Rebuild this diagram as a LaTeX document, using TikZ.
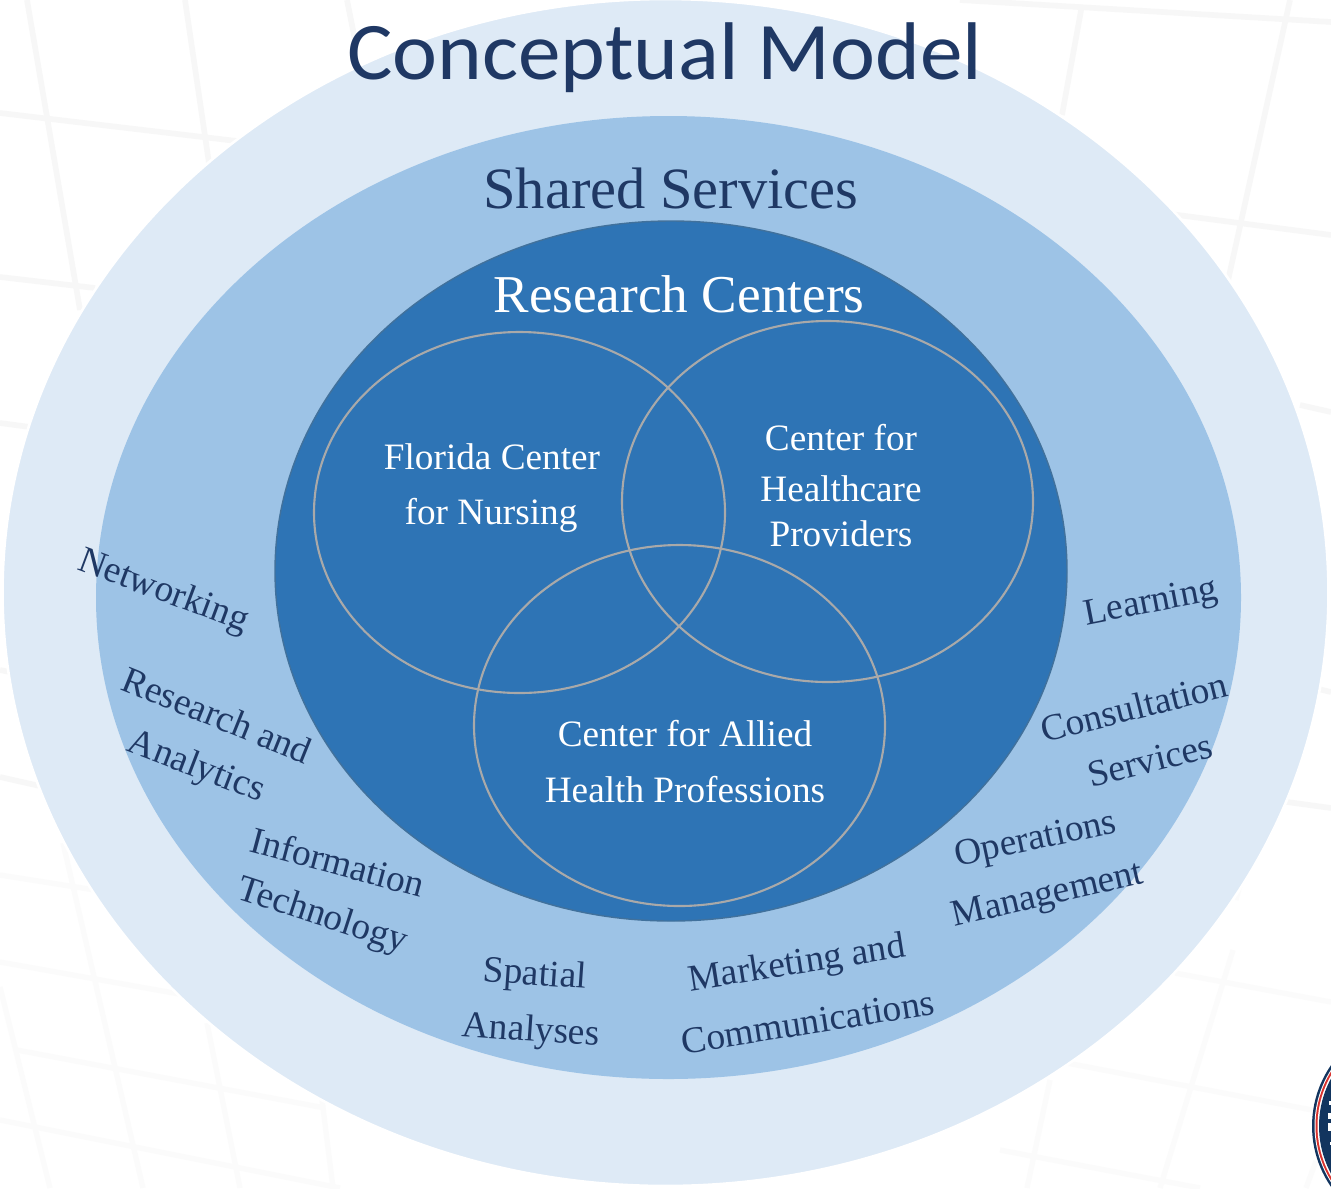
\documentclass[tikz,border=0pt]{standalone}
\usepackage{fontspec}
\setmainfont{Liberation Serif}
\newfontfamily\titlefont{Carlito}
\usepackage{xcolor}
\definecolor{navytext}{HTML}{1F3864}
\definecolor{outerblue}{HTML}{DEEAF6}
\definecolor{midblue}{HTML}{9DC3E6}
\definecolor{innerblue}{HTML}{2E74B5}
\definecolor{innerline}{HTML}{41719C}
\definecolor{ringgray}{HTML}{A9A9A9}
\definecolor{logoblue}{HTML}{12355F}
\definecolor{logored}{HTML}{D8322E}
\tikzset{
  gridline/.style={color=black!3,line width=3.2pt},
  faintline/.style={color=black!1.5,line width=3pt},
  ringline/.style={color=ringgray,line width=1.2pt},
  servicelabel/.style={text=navytext,font=\fontsize{21.3}{24}\selectfont,inner sep=0pt},
  centerlabel/.style={text=white,font=\fontsize{21.2}{24}\selectfont,inner sep=0pt}
}
\begin{document}
\begin{tikzpicture}[x=0.02cm,y=-0.02cm]
\path[use as bounding box,clip] (0,0) rectangle (1331,1188);
\fill[white] (0,0) rectangle (1331,1188);

% Background grid, top
\draw[gridline] (27,0) -- (80,310);
\draw[gridline] (185,0) -- (210,170);
\draw[gridline] (347,0) -- (355,40);
\draw[gridline] (0,113) -- (245,142);
\draw[gridline] (0,277) -- (95,288);
\draw[gridline] (0,423) -- (30,427);
\draw[gridline] (0,670) -- (10,672);
\draw[gridline] (0,777) -- (40,786);
\draw[gridline] (1082,5) -- (1062,115);
\draw[gridline] (1290,0) -- (1227,285);
\draw[gridline] (960,0) -- (1331,22);
\draw[gridline] (1170,214) -- (1331,235);
\draw[gridline] (1300,405) -- (1331,412);
\draw[gridline] (1310,687) -- (1331,692);
\draw[gridline] (1258,798) -- (1331,808);

% Background grid, bottom
\draw[faintline] (0,875) -- (95,890);
\draw[faintline] (0,962) -- (185,995);
\draw[faintline] (17,1050) -- (325,1108);
\draw[faintline] (0,1120) -- (240,1168) -- (340,1188);
\draw[faintline] (63,843) -- (143,1188);
\draw[faintline] (207,1023) -- (240,1188);
\draw[faintline] (322,1100) -- (333,1188);
\draw[faintline] (0,987) -- (50,1188);
\draw[faintline] (1175,973) -- (1331,1002);
\draw[faintline] (1067,1063) -- (1312,1110);
\draw[faintline] (1000,1150) -- (1200,1188);
\draw[faintline] (1233,950) -- (1160,1188);
\draw[faintline] (1050,1080) -- (1027,1188);
\draw[faintline] (1316,1161) -- (1306,1188);
\draw[faintline] (1262,798) -- (1236,900);

% Nested ovals
\draw[white,line width=1.5pt,fill=outerblue] (665.5,592.5) ellipse (663 and 593.5);
\fill[midblue] (668.5,597.5) ellipse (572.5 and 481.5);
\draw[innerline,line width=0.8pt,fill=innerblue] (671,571) ellipse (396 and 350);

% Venn rings
\draw[ringline] (519.5,512.5) ellipse (205.5 and 180.5);
\draw[ringline] (827.5,501.5) ellipse (205.5 and 180.5);
\draw[ringline] (679.5,725.5) ellipse (205.5 and 180.5);

% Titles
\node[text=navytext,font=\titlefont\fontsize{48}{50}\selectfont,inner sep=0pt,xscale=1.01,yscale=0.97] (title) at (665,58) {Conceptual Model};
\node[text=navytext,font=\fontsize{33.3}{36}\selectfont,inner sep=0pt] (shared) at (671,188) {Shared Services};
\node[text=white,font=\fontsize{30.3}{32}\selectfont,inner sep=0pt] (research) at (679,294) {Research Centers};

% Centers
\node[centerlabel] (nursingA) at (492,457) {Florida Center};
\node[centerlabel] (nursingB) at (491,515) {for Nursing};
\node[centerlabel] (healthA) at (841,438) {Center for};
\node[centerlabel] (healthB) at (841,489) {Healthcare};
\node[centerlabel] (healthC) at (841,534) {Providers};
\node[centerlabel] (alliedA) at (685,734) {Center for Allied};
\node[centerlabel] (alliedB) at (685,790) {Health Professions};

% Services, left to right along the band
\node[servicelabel,rotate=-20.5] (networking) at (163,592) {Networking};
\node[servicelabel,rotate=-22] (analyticsA) at (217,715) {Research and};
\node[servicelabel,rotate=-21] (analyticsB) at (196,768) {Analytics};
\node[servicelabel,rotate=-15] (itA) at (338,862) {Information};
\node[servicelabel,rotate=-18] (itB) at (322,917) {Technology};
\node[servicelabel,rotate=-4] (spatialA) at (535,976) {Spatial};
\node[servicelabel,rotate=-4] (spatialB) at (531,1032) {Analyses};
\node[servicelabel,rotate=9] (marketingA) at (797,965) {Marketing and};
\node[servicelabel,rotate=9] (marketingB) at (808,1022) {Communications};
\node[servicelabel,rotate=12] (operationsA) at (1036,841) {Operations};
\node[servicelabel,rotate=13] (operationsB) at (1048,897) {Management};
\node[servicelabel,rotate=14] (consultA) at (1134,707) {Consultation};
\node[servicelabel,rotate=14] (consultB) at (1150,760) {Services};
\node[servicelabel,rotate=11] (learning) at (1151,604) {Learning};

% Seal in the corner
\fill[logoblue] (1419,1126) circle (107);
\fill[white] (1419,1126) circle (104.5);
\fill[logored] (1419,1126) circle (103.5);
\fill[white] (1419,1126) circle (101.5);
\fill[logoblue] (1419,1126) circle (100);
\fill[white] (1329,1101) rectangle (1331,1105);
\fill[white] (1328,1113) rectangle (1331,1119);
\fill[white] (1328,1123) rectangle (1331,1131);
\fill[white] (1330,1142) rectangle (1331,1145);
\end{tikzpicture}
\end{document}
